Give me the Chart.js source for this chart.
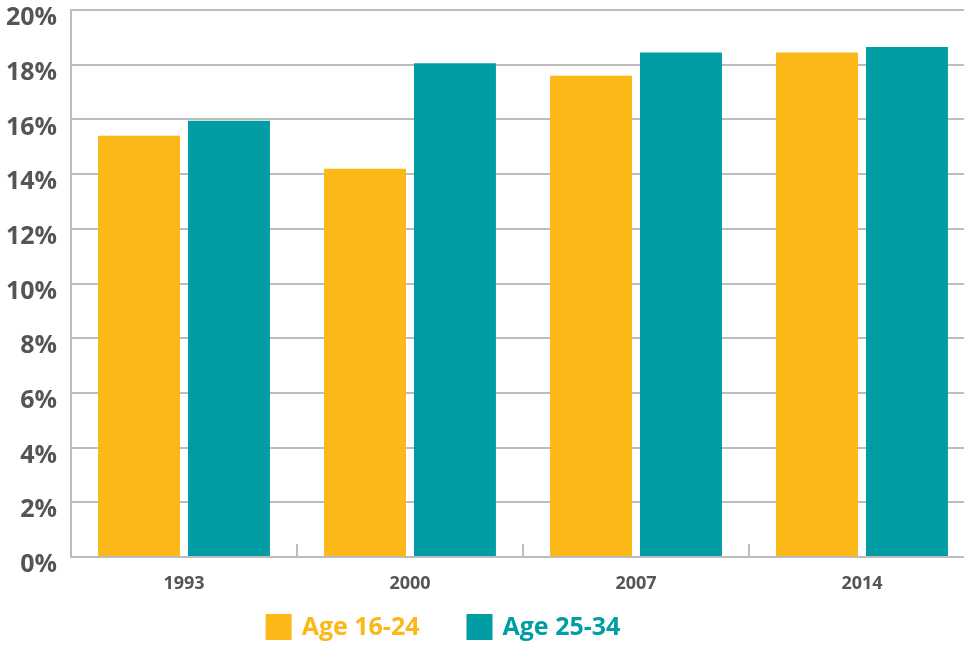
<!DOCTYPE html>
<html>
<head>
<meta charset="utf-8">
<script src="https://cdn.jsdelivr.net/npm/chart.js@4"></script>
<style>
html,body{margin:0;padding:0;background:#fff;overflow:hidden;}
#wrap{width:964px;height:648px;overflow:hidden;position:relative;}
</style>
</head>
<body>
<div id="wrap"><canvas id="c" width="975" height="648"></canvas></div>
<script>
const years = ['1993', '2000', '2007', '2014'];
const age16to24 = [15.4, 14.2, 17.6, 18.45];
const age25to34 = [15.95, 18.05, 18.45, 18.65];
const seriesNames = ['Age 16-24', 'Age 25-34'];
const yTicks = [0, 2, 4, 6, 8, 10, 12, 14, 16, 18, 20];

const YELLOW = '#FBB817';
const TEAL = '#009DA4';
const GRID = '#BDBDBD';
const FONT = "'Open Sans', 'Noto Sans', sans-serif";

const catTicks = {
  id: 'catTicks',
  afterDatasetsDraw(chart) {
    const x = chart.scales.x, ctx = chart.ctx;
    const bottom = chart.chartArea.bottom;
    ctx.save();
    ctx.strokeStyle = GRID;
    ctx.lineWidth = 2;
    for (let i = 0; i < years.length - 1; i++) {
      const px = Math.round((x.getPixelForValue(i) + x.getPixelForValue(i + 1)) / 2);
      ctx.beginPath();
      ctx.moveTo(px, bottom);
      ctx.lineTo(px, bottom - 13);
      ctx.stroke();
    }
    ctx.restore();
  }
};

const bottomLegend = {
  id: 'bottomLegend',
  afterDraw(chart) {
    const ctx = chart.ctx;
    const ds = chart.data.datasets;
    const box = 26, gapText = 10, gapItem = 47;
    ctx.save();
    ctx.font = "bold 25px " + FONT;
    ctx.textBaseline = 'middle';
    ctx.textAlign = 'left';
    const widths = ds.map(d => ctx.measureText(d.label).width);
    const total = widths.reduce((s, w) => s + box + gapText + w, 0) + gapItem * (ds.length - 1);
    const centerX = 443;
    let x = centerX - total / 2;
    const boxTop = 614;
    ds.forEach((d, i) => {
      ctx.fillStyle = d.backgroundColor;
      ctx.fillRect(x, boxTop, box, box);
      ctx.fillText(d.label, x + box + gapText, boxTop + box / 2 + 1);
      x += box + gapText + widths[i] + gapItem;
    });
    ctx.restore();
  }
};

new Chart(document.getElementById('c'), {
  type: 'bar',
  data: {
    labels: years,
    datasets: [
      { label: seriesNames[0], data: age16to24, backgroundColor: YELLOW },
      { label: seriesNames[1], data: age25to34, backgroundColor: TEAL }
    ]
  },
  options: {
    responsive: false,
    animation: false,
    devicePixelRatio: 1,
    layout: { padding: { top: 0, left: 0, right: 0, bottom: 51 } },
    categoryPercentage: 0.796,
    barPercentage: 0.911,
    scales: {
      x: {
        grid: { display: false, drawTicks: false },
        border: { display: true, color: GRID, width: 2 },
        ticks: { color: '#555', font: { family: FONT, size: 18, weight: 'bold' }, padding: 16 },
        afterFit(scale) {
          scale.height = 40;
          scale.paddingLeft = 0; scale.paddingRight = 0;
          scale.paddingTop = 0; scale.paddingBottom = 0;
        }
      },
      y: {
        min: 0, max: 20,
        afterBuildTicks(scale) { scale.ticks = yTicks.map(v => ({ value: v })); },
        grid: { color: GRID, lineWidth: 2, drawTicks: false },
        border: { display: true, color: GRID, width: 2 },
        ticks: {
          color: '#555',
          font: { family: FONT, size: 25, weight: 'bold' },
          padding: 14,
          labelOffset: 8,
          callback: v => v + '%'
        },
        afterFit(scale) {
          scale.width = 71;
          scale.paddingTop = 10; scale.paddingBottom = 0;
          scale.paddingLeft = 0; scale.paddingRight = 0;
        }
      }
    },
    plugins: {
      tooltip: { enabled: false },
      legend: { display: false }
    }
  },
  plugins: [catTicks, bottomLegend]
});
</script>
</body>
</html>
